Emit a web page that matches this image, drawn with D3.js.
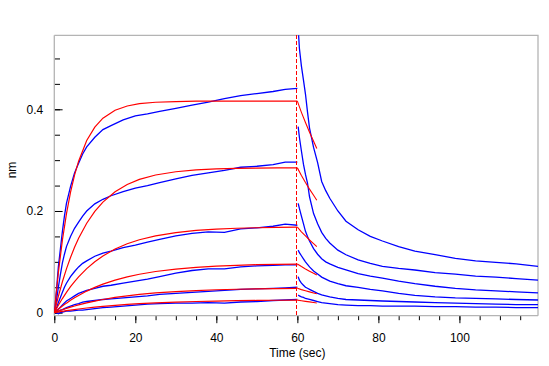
<!DOCTYPE html>
<html><head><meta charset="utf-8">
<script src="https://cdn.jsdelivr.net/npm/d3@7"></script>
<style>
body{margin:0;background:#fff;}
svg{display:block;}
text{font-family:"Liberation Sans",Arial,sans-serif;font-size:12px;fill:#000;}
</style></head>
<body><svg id="chart" width="549" height="366"></svg>
<script>
// ---------- data ----------
const xTickLabels = [0, 20, 40, 60, 80, 100];
const yTickLabels = [0, 0.2, 0.4];
const xLabel = "Time (sec)";
const yLabel = "nm";

// association phase (blue, measured)
const tAssoc = [0,0.5,1,1.5,2,2.5,3,4,5,6,7,8,10,12,14,17,20,23,26,30,34,38,42,46,50,54,57,60];
const assoc1 = [0,0.04,0.09,0.125,0.16,0.19,0.215,0.248,0.275,0.294,0.312,0.326,0.345,0.36,0.368,0.379,0.387,0.391,0.396,0.402,0.408,0.414,0.421,0.427,0.431,0.435,0.439,0.441];
const assoc2 = [0,0.022,0.05,0.075,0.098,0.115,0.13,0.15,0.166,0.178,0.19,0.2,0.214,0.223,0.23,0.238,0.245,0.25,0.256,0.263,0.27,0.275,0.28,0.286,0.288,0.291,0.296,0.296];
const assoc3 = [0,0.008,0.02,0.03,0.04,0.05,0.058,0.071,0.081,0.09,0.097,0.102,0.111,0.117,0.121,0.128,0.133,0.139,0.144,0.151,0.156,0.159,0.158,0.165,0.167,0.17,0.174,0.172];
const assoc4 = [0,0.003,0.007,0.011,0.015,0.019,0.023,0.028,0.033,0.038,0.041,0.044,0.048,0.052,0.054,0.058,0.062,0.066,0.071,0.078,0.083,0.086,0.086,0.09,0.092,0.093,0.094,0.094];
const assoc5 = [0,0.001,0.003,0.005,0.006,0.008,0.01,0.013,0.016,0.018,0.021,0.022,0.024,0.026,0.027,0.029,0.031,0.033,0.036,0.038,0.04,0.042,0.044,0.046,0.047,0.048,0.049,0.05];
const assoc6 = [0,0,-0.002,0,0.001,0.002,0.003,0.003,0.004,0.005,0.005,0.006,0.008,0.01,0.011,0.013,0.015,0.017,0.018,0.019,0.019,0.02,0.019,0.021,0.022,0.024,0.025,0.026];

// dissociation phase (blue, measured)
const tDissoc = [60.2,60.5,61,61.5,62,62.5,63,64,65,66,67,68,70,72,75,78,81,85,89,94,99,104,109,114,119.4];
const dissoc1 = [0.56,0.52,0.485,0.458,0.43,0.395,0.363,0.325,0.295,0.258,0.24,0.225,0.2,0.18,0.163,0.15,0.141,0.13,0.121,0.114,0.107,0.102,0.099,0.096,0.091];
const dissoc2 = [0.366,0.345,0.318,0.292,0.272,0.255,0.228,0.195,0.175,0.158,0.146,0.137,0.123,0.114,0.104,0.097,0.091,0.087,0.084,0.079,0.076,0.072,0.07,0.067,0.064];
const dissoc3 = [0.215,0.205,0.19,0.175,0.16,0.15,0.141,0.126,0.115,0.106,0.1,0.096,0.089,0.084,0.077,0.072,0.068,0.062,0.057,0.052,0.048,0.045,0.043,0.041,0.039];
const dissoc4 = [0.123,0.118,0.112,0.106,0.1,0.095,0.09,0.082,0.076,0.07,0.066,0.062,0.057,0.053,0.05,0.046,0.043,0.038,0.034,0.031,0.029,0.028,0.027,0.026,0.025];
const dissoc5 = [0.071,0.064,0.058,0.054,0.05,0.048,0.046,0.042,0.038,0.035,0.033,0.031,0.028,0.026,0.025,0.024,0.023,0.022,0.021,0.02,0.019,0.018,0.017,0.016,0.016];
const dissoc6 = [0.035,0.033,0.031,0.03,0.028,0.027,0.026,0.024,0.022,0.02,0.019,0.018,0.016,0.015,0.014,0.014,0.013,0.013,0.013,0.012,0.012,0.011,0.011,0.01,0.0098];

// fitted curves (red)
const tFitAssoc = [0,1,2,3,4,5,6,8,10,12,15,18,21,25,30,35,40,45,50,55,60];
const fitA1 = [0,0.0788,0.1427,0.1945,0.2364,0.2704,0.298,0.3385,0.365,0.3825,0.3982,0.4065,0.411,0.4138,0.4152,0.416,0.416,0.416,0.416,0.416,0.416];
const fitA2 = [0,0.0322,0.0608,0.0862,0.1086,0.1286,0.1463,0.1759,0.1992,0.2175,0.2379,0.2521,0.2621,0.2708,0.2772,0.2807,0.2827,0.2837,0.2843,0.2846,0.2848];
const fitA3 = [0,0.0146,0.0278,0.04,0.0511,0.0612,0.0705,0.0867,0.1003,0.1116,0.1252,0.1356,0.1435,0.1512,0.1576,0.1617,0.1644,0.1661,0.1671,0.1678,0.1682];
const fitA4 = [0,0.0067,0.013,0.0188,0.0243,0.0293,0.034,0.0425,0.0498,0.0561,0.0641,0.0705,0.0756,0.081,0.0858,0.0892,0.0916,0.0932,0.0944,0.0951,0.0957];
const fitA5 = [0,0.003,0.0058,0.0084,0.0109,0.0132,0.0154,0.0194,0.0229,0.026,0.03,0.0332,0.036,0.0389,0.0416,0.0436,0.0451,0.0461,0.0469,0.0475,0.0479];
const fitA6 = [0,0.0014,0.0027,0.0039,0.0051,0.0062,0.0073,0.0092,0.0109,0.0125,0.0145,0.0162,0.0177,0.0193,0.0208,0.022,0.0229,0.0236,0.0241,0.0245,0.0248];
const tFitDissoc = [60,61,62,63,64,64.8];
const fitD1 = [0.416,0.394,0.374,0.355,0.337,0.323];
const fitD2 = [0.2848,0.27,0.256,0.243,0.231,0.221];
const fitD3 = [0.1682,0.159,0.151,0.143,0.136,0.13];
const fitD4 = [0.0957,0.0907,0.086,0.0816,0.0774,0.0743];
const fitD5 = [0.0479,0.0454,0.0431,0.0409,0.0388,0.0372];
const fitD6 = [0.0248,0.0235,0.0223,0.0212,0.0201,0.0192];
const switchTime = 60;

// ---------- layout ----------
const svg = d3.select("#chart");
const L = 54.3, R = 538, T = 35.3, B = 315.7;
const x = d3.scaleLinear().domain([0, 119.4]).range([L, R]);
const y = d3.scaleLinear().domain([-0.0059, 0.5455]).range([B, T]);

svg.append("defs").append("clipPath").attr("id","clip")
  .append("rect").attr("x",L).attr("y",T).attr("width",R-L).attr("height",B-T);

// frame (top & right)
svg.append("path").attr("d",`M${L},${T}H${R}V${B}`).attr("fill","none").attr("stroke","#b4b4b4").attr("stroke-width",1.3);

// y axis: minor ticks
const yMinor = d3.range(0, 0.501, 0.05);
svg.append("g").attr("transform",`translate(${L},0)`)
  .call(d3.axisLeft(y).tickValues(yMinor).tickSize(-5.7).tickFormat(""))
  .call(g=>g.select(".domain").remove())
  .call(g=>g.selectAll("line").attr("stroke","#000"));
const gy = svg.append("g").attr("transform",`translate(${L},0)`)
  .call(d3.axisLeft(y).tickValues(yTickLabels).tickSize(-8.3).tickPadding(11).tickFormat(d=>d===0?"0":d3.format(".1f")(d)));
gy.select(".domain").remove();
gy.selectAll("line").attr("stroke","#000");
gy.selectAll("text").attr("font-family",null).attr("font-size",null).style("font-size","12px");
svg.append("line").attr("x1",L).attr("x2",L).attr("y1",T).attr("y2",B).attr("stroke","#b4b4b4").attr("stroke-width",1.3);

// x axis
const xMinor = d3.range(0, 119, 5);
svg.append("g").attr("transform",`translate(0,${B})`)
  .call(d3.axisBottom(x).tickValues(xMinor).tickSize(4.5).tickFormat(""))
  .call(g=>g.select(".domain").remove())
  .call(g=>g.selectAll("line").attr("stroke","#000"));
const gx = svg.append("g").attr("transform",`translate(0,${B})`)
  .call(d3.axisBottom(x).tickValues(xTickLabels).tickSize(7.5).tickFormat(d3.format("d")));
gx.select(".domain").remove();
gx.selectAll("line").attr("stroke","#000");
gx.selectAll("text").attr("y",26.3).attr("dy",null).style("font-size","12px");
svg.append("line").attr("x1",L).attr("x2",R).attr("y1",B).attr("y2",B).attr("stroke","#b4b4b4").attr("stroke-width",1.3);

// axis titles
svg.append("text").attr("x",x(60)).attr("y",357).attr("text-anchor","middle").text(xLabel);
svg.append("text").attr("transform","translate(15.5,170) rotate(-90)").attr("text-anchor","middle").text(yLabel);

// ---------- curves ----------
const plot = svg.append("g").attr("clip-path","url(#clip)");
const line = d3.line().x(d=>x(d[0])).y(d=>y(d[1]));
const zipT = (ts, vs) => ts.map((t,i)=>[t, vs[i]]);

const blueAssoc = [assoc1,assoc2,assoc3,assoc4,assoc5,assoc6];
const blueDissoc = [dissoc1,dissoc2,dissoc3,dissoc4,dissoc5,dissoc6];
const redAssoc = [fitA1,fitA2,fitA3,fitA4,fitA5,fitA6];
const redDissoc = [fitD1,fitD2,fitD3,fitD4,fitD5,fitD6];

blueAssoc.forEach(v=>plot.append("path").attr("d",line(zipT(tAssoc,v))).attr("fill","none").attr("stroke","#0000ff").attr("stroke-width",1.3));
blueDissoc.forEach(v=>plot.append("path").attr("d",line(zipT(tDissoc,v))).attr("fill","none").attr("stroke","#0000ff").attr("stroke-width",1.3));
redAssoc.forEach(v=>plot.append("path").attr("d",line(zipT(tFitAssoc,v))).attr("fill","none").attr("stroke","#ff0000").attr("stroke-width",1.2));
redDissoc.forEach(v=>plot.append("path").attr("d",line(zipT(tFitDissoc,v))).attr("fill","none").attr("stroke","#ff0000").attr("stroke-width",1.1));

// switch line
const sx = Math.round(x(switchTime)) - 0.5;
svg.append("line").attr("x1",sx).attr("x2",sx).attr("y1",T).attr("y2",B)
  .attr("stroke","#ff0000").attr("stroke-width",1.2).attr("stroke-dasharray","4,2").attr("shape-rendering","crispEdges");
</script></body></html>
